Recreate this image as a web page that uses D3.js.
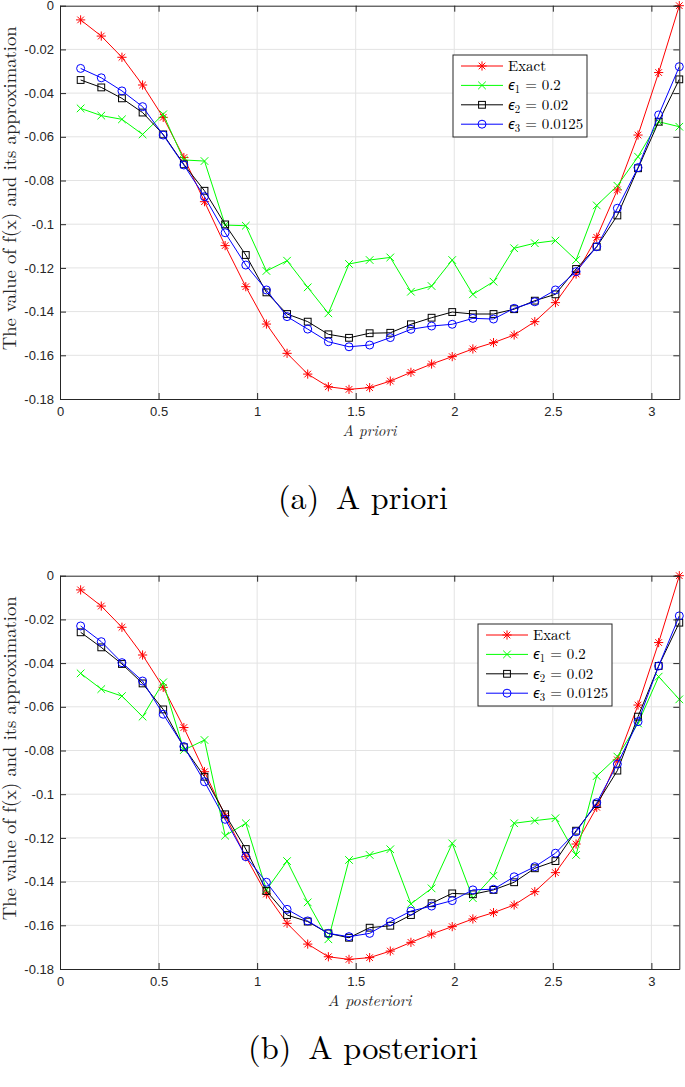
<!DOCTYPE html>
<html><head><meta charset="utf-8">
<script src="https://cdn.jsdelivr.net/npm/d3@7"></script>
<style>body{margin:0;background:#fff} svg{display:block}</style>
</head><body><svg id="c" width="685" height="1087"></svg>
<script>
const xValues = [0.1047,0.2094,0.3142,0.4189,0.5236,0.6283,0.7330,0.8378,0.9425,1.0472,1.1519,1.2566,1.3614,1.4661,1.5708,1.6755,1.7802,1.8850,1.9897,2.0944,2.1991,2.3038,2.4086,2.5133,2.6180,2.7227,2.8274,2.9322,3.0369,3.1416];
const exact = [-0.0065,-0.0139,-0.0236,-0.0363,-0.0511,-0.0695,-0.0897,-0.1098,-0.1286,-0.1457,-0.1591,-0.1686,-0.1744,-0.1756,-0.1748,-0.1718,-0.1678,-0.1640,-0.1606,-0.1571,-0.1542,-0.1507,-0.1446,-0.1359,-0.1228,-0.1060,-0.0843,-0.0592,-0.0306,0.0000];
const prioriEps1 = [-0.0470,-0.0503,-0.0520,-0.0589,-0.0497,-0.0706,-0.0711,-0.1004,-0.1007,-0.1214,-0.1167,-0.1289,-0.1408,-0.1182,-0.1164,-0.1152,-0.1309,-0.1283,-0.1164,-0.1321,-0.1263,-0.1110,-0.1087,-0.1075,-0.1164,-0.0914,-0.0824,-0.0691,-0.0531,-0.0554];
const prioriEps2 = [-0.0340,-0.0374,-0.0424,-0.0489,-0.0589,-0.0726,-0.0847,-0.1001,-0.1141,-0.1312,-0.1411,-0.1446,-0.1504,-0.1520,-0.1499,-0.1497,-0.1458,-0.1428,-0.1402,-0.1411,-0.1411,-0.1389,-0.1350,-0.1321,-0.1205,-0.1103,-0.0960,-0.0744,-0.0531,-0.0337];
const prioriEps3 = [-0.0287,-0.0330,-0.0390,-0.0462,-0.0592,-0.0729,-0.0874,-0.1039,-0.1187,-0.1301,-0.1423,-0.1480,-0.1538,-0.1561,-0.1553,-0.1519,-0.1481,-0.1466,-0.1458,-0.1431,-0.1434,-0.1385,-0.1355,-0.1301,-0.1217,-0.1103,-0.0927,-0.0741,-0.0500,-0.0279];
const postEps1 = [-0.0447,-0.0519,-0.0551,-0.0645,-0.0488,-0.0798,-0.0752,-0.1190,-0.1133,-0.1438,-0.1306,-0.1495,-0.1664,-0.1301,-0.1278,-0.1252,-0.1502,-0.1431,-0.1225,-0.1476,-0.1373,-0.1133,-0.1121,-0.1110,-0.1278,-0.0917,-0.0828,-0.0676,-0.0462,-0.0566];
const postEps2 = [-0.0259,-0.0328,-0.0404,-0.0493,-0.0612,-0.0785,-0.0920,-0.1092,-0.1251,-0.1443,-0.1553,-0.1583,-0.1637,-0.1657,-0.1611,-0.1602,-0.1553,-0.1499,-0.1454,-0.1458,-0.1438,-0.1403,-0.1339,-0.1306,-0.1167,-0.1045,-0.0892,-0.0645,-0.0413,-0.0215];
const postEps3 = [-0.0230,-0.0302,-0.0398,-0.0482,-0.0634,-0.0782,-0.0943,-0.1115,-0.1286,-0.1403,-0.1527,-0.1580,-0.1637,-0.1652,-0.1637,-0.1583,-0.1535,-0.1512,-0.1487,-0.1438,-0.1435,-0.1378,-0.1332,-0.1270,-0.1172,-0.1039,-0.0862,-0.0668,-0.0413,-0.0184];
const xTicks = [0,0.5,1,1.5,2,2.5,3];
const xTickLabels = ["0","0.5","1","1.5","2","2.5","3"];
const yTicks = [0,-0.02,-0.04,-0.06,-0.08,-0.1,-0.12,-0.14,-0.16,-0.18];
const yTickLabels = ["0","-0.02","-0.04","-0.06","-0.08","-0.1","-0.12","-0.14","-0.16","-0.18"];
const legendNames = ["Exact","1","2","3"];
const legendValues = ["","0.2","0.02","0.0125"];
const seriesColors = ["#ff0000","#00ff00","#000000","#0000ff"];
const seriesMarkers = ["star","x","square","circle"];

const svg = d3.select("#c");
const serif = "'Latin Modern Roman','CMU Serif','DejaVu Serif',serif";
const sans = "'Liberation Sans',Arial,Helvetica,sans-serif";
const axCol = "#262626";

function fit(sel, target, base) {
  const w = sel.node().getComputedTextLength();
  const fs = base * target / w;
  sel.style("font-size", fs + "px");
  return fs;
}

function marker(g, type, color) {
  if (type === "star") {
    const r = 4.6, a = r * 0.72;
    g.append("path").attr("d", `M${-r},0L${r},0M0,${-r}L0,${r}M${-a},${-a}L${a},${a}M${-a},${a}L${a},${-a}`)
      .attr("stroke", color).attr("fill", "none").attr("stroke-width", 1);
  } else if (type === "x") {
    const r = 3.8;
    g.append("path").attr("d", `M${-r},${-r}L${r},${r}M${-r},${r}L${r},${-r}`)
      .attr("stroke", color).attr("fill", "none").attr("stroke-width", 1);
  } else if (type === "square") {
    g.append("rect").attr("x", -3.4).attr("y", -3.4).attr("width", 6.8).attr("height", 6.8)
      .attr("stroke", color).attr("fill", "none").attr("stroke-width", 1);
  } else {
    g.append("circle").attr("r", 4).attr("stroke", color).attr("fill", "none").attr("stroke-width", 1);
  }
}

function panel(top, bottom, series, legendX, legendY, xlabel, xlabelW, caption, captionY, captionW) {
  const x = d3.scaleLinear().domain([0, Math.PI]).range([60, 679.3]);
  const y = d3.scaleLinear().domain([-0.18, 0]).range([bottom, top]);
  const g = svg.append("g");
  g.selectAll(".gx").data(xTicks.filter(t => t > 0)).enter().append("line")
    .attr("x1", d => x(d)).attr("x2", d => x(d)).attr("y1", top).attr("y2", bottom)
    .attr("stroke", "#e3e3e3").attr("stroke-width", 1);
  g.selectAll(".gy").data(yTicks.filter(t => t < 0 && t > -0.18)).enter().append("line")
    .attr("y1", d => y(d)).attr("y2", d => y(d)).attr("x1", 60).attr("x2", 679.3)
    .attr("stroke", "#e3e3e3").attr("stroke-width", 1);

  series.forEach((vals, si) => {
    const pts = xValues.map((xv, i) => [xv, vals[i]]);
    g.append("path").datum(pts)
      .attr("d", d3.line().x(d => x(d[0])).y(d => y(d[1])))
      .attr("fill", "none").attr("stroke", seriesColors[si]).attr("stroke-width", 1);
    pts.forEach(p => {
      const mg = g.append("g").attr("transform", `translate(${x(p[0])},${y(p[1])})`);
      marker(mg, seriesMarkers[si], seriesColors[si]);
    });
  });

  const styleAxis = (ax) => {
    ax.select(".domain").attr("stroke", axCol).attr("stroke-width", 1);
    ax.selectAll(".tick line").attr("stroke", axCol);
    ax.selectAll(".tick text").attr("fill", axCol).style("font-family", sans).style("font-size", "13px");
  };
  const xa = g.append("g").attr("transform", `translate(0,${bottom})`)
    .call(d3.axisBottom(x).tickValues(xTicks).tickFormat((d, i) => xTickLabels[i]).tickSizeInner(-6).tickSizeOuter(0).tickPadding(8));
  styleAxis(xa);
  const xt = g.append("g").attr("transform", `translate(0,${top})`)
    .call(d3.axisTop(x).tickValues(xTicks).tickFormat("").tickSizeInner(-6).tickSizeOuter(0));
  styleAxis(xt);
  const ya = g.append("g").attr("transform", `translate(60,0)`)
    .call(d3.axisLeft(y).tickValues(yTicks).tickFormat((d, i) => yTickLabels[i]).tickSizeInner(-6).tickSizeOuter(0).tickPadding(6));
  styleAxis(ya);
  const yr = g.append("g").attr("transform", `translate(679.3,0)`)
    .call(d3.axisRight(y).tickValues(yTicks).tickFormat("").tickSizeInner(-6).tickSizeOuter(0));
  styleAxis(yr);

  const xl = g.append("text").attr("x", 369.5).attr("y", bottom + 37).attr("text-anchor", "middle")
    .style("font-family", serif).style("font-style", "italic").style("font-size", "14px").attr("fill", axCol).text(xlabel);
  fit(xl, xlabelW, 14);
  const yl = g.append("text").attr("transform", `translate(15.5,${(top + bottom) / 2 - 14}) rotate(-90)`).attr("text-anchor", "middle")
    .style("font-family", serif).style("font-size", "14px").attr("fill", axCol).text("The value of f(x) and its approximation");
  fit(yl, 324, 14);

  const lw = 134, lh = 82;
  const lg = g.append("g").attr("transform", `translate(${legendX},${legendY})`);
  lg.append("rect").attr("width", lw).attr("height", lh).attr("fill", "#fff").attr("stroke", axCol).attr("stroke-width", 1);
  let lfs = 13.5;
  legendNames.forEach((nm, i) => {
    const ry = 11 + i * 19.4;
    lg.append("line").attr("x1", 8).attr("x2", 50).attr("y1", ry).attr("y2", ry)
      .attr("stroke", seriesColors[i]).attr("stroke-width", 1);
    const mg = lg.append("g").attr("transform", `translate(29,${ry})`);
    marker(mg, seriesMarkers[i], seriesColors[i]);
    const t = lg.append("text").attr("x", 55).attr("y", ry + 5)
      .style("font-family", serif).style("font-size", lfs + "px").attr("fill", "#000");
    if (i === 0) { t.text(nm); lfs = fit(t, 38, 13.5); }
    else {
      t.append("tspan").style("font-style", "italic").style("font-weight", "normal")
        .style("font-family", "'Noto Sans','DejaVu Sans',sans-serif").text("\u03F5");
      t.append("tspan").attr("dy", 3).style("font-size", (lfs * 0.72) + "px").text(nm);
      t.append("tspan").attr("dy", -3).text(" = " + legendValues[i]);
    }
  });

  const cp = svg.append("text").attr("x", 363).attr("y", captionY).attr("text-anchor", "middle")
    .style("font-family", serif).style("font-size", "28px").attr("fill", "#000");
  cp.append("tspan").text(caption[0]);
  cp.append("tspan").attr("dx", 6).text(" " + caption[1]);
  fit(cp, captionW - 6, 28);
}

panel(5.7, 399, [exact, prioriEps1, prioriEps2, prioriEps3], 453, 55, "A priori", 54, ["(a)", "A priori"], 509, 170);
panel(575.7, 969, [exact, postEps1, postEps2, postEps3], 478, 624, "A posteriori", 84, ["(b)", "A posteriori"], 1059, 230);
</script></body></html>
